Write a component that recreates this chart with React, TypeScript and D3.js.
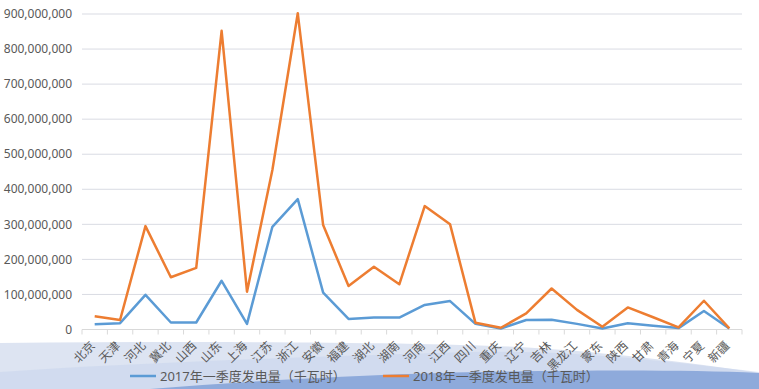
import { line, scaleBand, scaleLinear, format } from "d3";

const WIDTH = 759;
const HEIGHT = 389;
const MARGIN = { top: 14, right: 17, bottom: 59.5, left: 82 };

const provinces = [
  "北京", "天津", "河北", "冀北", "山西", "山东", "上海", "江苏", "浙江", "安徽",
  "福建", "湖北", "湖南", "河南", "江西", "四川", "重庆", "辽宁", "吉林", "黑龙江",
  "蒙东", "陕西", "甘肃", "青海", "宁夏", "新疆",
];

// 千瓦时
const gen2017 = [
  15e6, 18e6, 99e6, 20e6, 20e6, 139e6, 16e6, 293e6, 372e6, 105e6,
  30e6, 34e6, 34e6, 70e6, 81e6, 16e6, 3e6, 27e6, 28e6, 16e6,
  3e6, 18e6, 11e6, 4e6, 53e6, 3e6,
];
const gen2018 = [
  38e6, 27e6, 295e6, 149e6, 176e6, 852e6, 108e6, 455e6, 902e6, 298e6,
  124e6, 179e6, 129e6, 352e6, 300e6, 19e6, 5e6, 46e6, 117e6, 56e6,
  8e6, 63e6, 35e6, 6e6, 82e6, 3e6,
];

const yTicks = [0, 1e8, 2e8, 3e8, 4e8, 5e8, 6e8, 7e8, 8e8, 9e8];

const series = [
  { label: "2017年一季度发电量（千瓦时）", values: gen2017, color: "#5b9bd5" },
  { label: "2018年一季度发电量（千瓦时）", values: gen2018, color: "#ed7d31" },
];

const FONT = "'Noto Sans', 'Noto Sans CJK SC', sans-serif";
const TEXT = "#595959";

export default function App() {
  const xScale = scaleBand<string>()
    .domain(provinces)
    .range([MARGIN.left, WIDTH - MARGIN.right]);
  const yScale = scaleLinear()
    .domain([0, 9e8])
    .range([HEIGHT - MARGIN.bottom, MARGIN.top]);
  const cx = (p: string) => (xScale(p) ?? 0) + xScale.bandwidth() / 2;
  const fmt = format(",");
  const baseY = yScale(0);

  const tickXs = [...provinces.map((p) => xScale(p) ?? 0), WIDTH - MARGIN.right];

  return (
    <svg
      width={WIDTH}
      height={HEIGHT}
      viewBox={`0 0 ${WIDTH} ${HEIGHT}`}
      style={{ position: "absolute", left: 0, top: 0, background: "#fff" }}
      fontFamily={FONT}
    >
      {/* decorative bottom waves */}
      <path
        d={`M0,343 C200,341 420,342 520,347 C620,353 700,364 ${WIDTH},373 L${WIDTH},${HEIGHT} L0,${HEIGHT} Z`}
        fill="#dde4f2"
      />
      <path
        d={`M0,372 C150,362 330,356 470,352 C560,350 640,358 ${WIDTH},372 L${WIDTH},${HEIGHT} L0,${HEIGHT} Z`}
        fill="#c9d5ec"
        opacity={0.6}
      />
      <path
        d={`M150,${HEIGHT} C260,380 380,374 480,372 C600,370 690,370 ${WIDTH},373 L${WIDTH},${HEIGHT} Z`}
        fill="#8eaadb"
      />

      {yTicks.map((t) => (
        <g key={t}>
          {t > 0 && (
            <line
              x1={MARGIN.left}
              x2={WIDTH - MARGIN.right}
              y1={yScale(t)}
              y2={yScale(t)}
              stroke="#d9dbe3"
              strokeWidth={1}
            />
          )}
          <text
            x={72}
            y={yScale(t)}
            dy="0.35em"
            textAnchor="end"
            fontSize={12}
            fill={TEXT}
          >
            {fmt(t)}
          </text>
        </g>
      ))}

      <line
        x1={MARGIN.left}
        x2={WIDTH - MARGIN.right}
        y1={baseY}
        y2={baseY}
        stroke="#d9d9d9"
        strokeWidth={1}
      />
      {tickXs.map((x, i) => (
        <line key={i} x1={x} x2={x} y1={baseY} y2={baseY + 5} stroke="#d9d9d9" />
      ))}

      {series.map((s) => {
        const path = line<number>()
          .x((_, i) => cx(provinces[i]))
          .y((d) => yScale(d))(s.values);
        return (
          <path
            key={s.label}
            d={path ?? ""}
            fill="none"
            stroke={s.color}
            strokeWidth={2.5}
            strokeLinejoin="round"
          />
        );
      })}

      {provinces.map((p) => (
        <text
          key={p}
          transform={`translate(${cx(p) - 2},${baseY + 14}) rotate(-45)`}
          textAnchor="end"
          dy="0.35em"
          fontSize={12}
          fill={TEXT}
        >
          {p}
        </text>
      ))}

      {series.map((s, i) => {
        const x0 = i === 0 ? 130 : 383;
        return (
          <g key={s.label} transform={`translate(${x0},376)`}>
            <line x1={0} x2={26} y1={0} y2={0} stroke={s.color} strokeWidth={2.5} />
            <text x={30} y={0} dy="0.35em" fontSize={13} fill={TEXT}>
              {s.label}
            </text>
          </g>
        );
      })}
    </svg>
  );
}
